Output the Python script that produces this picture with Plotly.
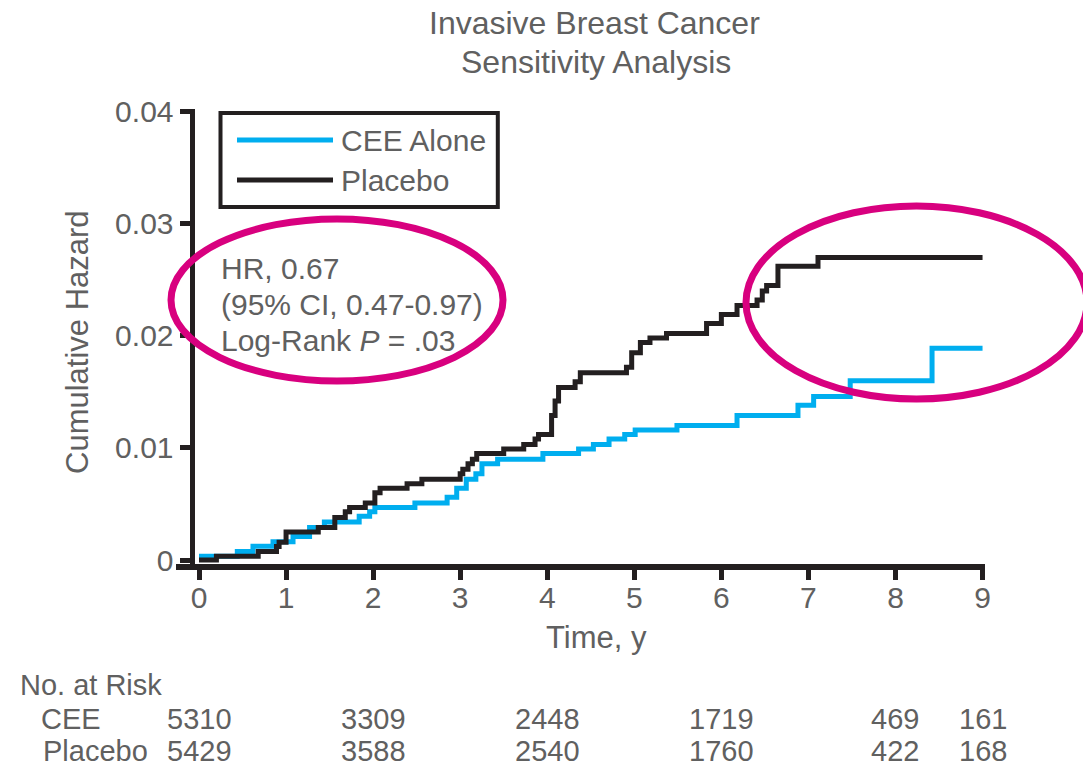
import plotly.graph_objects as go

# Cumulative hazard step curves: time in years, cumulative hazard
cee_years = [0.00, 0.44, 0.62, 0.85, 1.08, 1.27, 1.44, 1.84, 1.96, 2.02, 2.48, 2.85,
             2.96, 3.07, 3.18, 3.25, 3.43, 3.95, 4.36, 4.53, 4.71, 4.89, 5.01, 5.49,
             6.18, 6.88, 7.06, 7.48, 8.42, 9.00]
cee_hazard = [0.00035, 0.00076, 0.00123, 0.00164, 0.0021, 0.0029, 0.0034, 0.0039,
              0.0043, 0.0047, 0.0051, 0.0056, 0.0064, 0.0072, 0.0077, 0.0086, 0.0090,
              0.0095, 0.0099, 0.0103, 0.0108, 0.0112, 0.0116, 0.0120, 0.0129, 0.0138,
              0.0146, 0.0160, 0.0189, 0.0189]

placebo_years = [0.00, 0.20, 0.68, 0.89, 0.92, 1.00, 1.37, 1.56, 1.68, 1.73, 1.91, 2.02,
                 2.08, 2.39, 2.56, 3.00, 3.03, 3.09, 3.14, 3.19, 3.50, 3.73, 3.86, 3.90,
                 4.05, 4.09, 4.13, 4.32, 4.38, 4.91, 4.97, 5.07, 5.18, 5.37, 5.83, 6.00,
                 6.18, 6.41, 6.47, 6.52, 6.65, 7.11, 9.00]
placebo_hazard = [0.0, 0.00035, 0.00076, 0.0012, 0.0016, 0.0025, 0.0029, 0.0038, 0.0043,
                  0.0047, 0.0051, 0.0060, 0.0064, 0.0068, 0.0072, 0.0077, 0.0081, 0.0086,
                  0.0090, 0.0095, 0.0099, 0.0103, 0.0108, 0.0112, 0.0129, 0.0142, 0.0154,
                  0.0159, 0.0167, 0.0172, 0.0185, 0.0194, 0.0198, 0.0202, 0.0211, 0.0219,
                  0.0227, 0.0232, 0.0240, 0.0245, 0.0262, 0.0270, 0.0270]

# Number at risk table
risk_years = [0, 2, 4, 6, 8, 9]
risk_cee = ["5310", "3309", "2448", "1719", "469", "161"]
risk_placebo = ["5429", "3588", "2540", "1760", "422", "168"]

# Axis ticks
x_tick_values = [0, 1, 2, 3, 4, 5, 6, 7, 8, 9]
y_tick_values = [0, 0.01, 0.02, 0.03, 0.04]
y_tick_labels = ["0", "0.01", "0.02", "0.03", "0.04"]

stats_lines = ["HR, 0.67", "(95% CI, 0.47-0.97)", "Log-Rank <i>P</i> = .03"]

BLUE = "#00aeef"
DARK = "#231f20"
TEXT = "#606060"
MAGENTA = "#d8007f"
FONT = "Liberation Sans, Arial, sans-serif"

W, H = 1083, 769
L, R, T, B = 176, 98, 109, 205
PW, PH = W - L - R, H - T - B


def px(x):
    return (x - L) / PW


def py(y):
    return (H - B - y) / PH


fig = go.Figure()
fig.add_trace(go.Scatter(x=cee_years, y=cee_hazard, mode="lines", line_shape="hv",
                         line=dict(color=BLUE, width=5), name="CEE Alone",
                         showlegend=False))
fig.add_trace(go.Scatter(x=placebo_years, y=placebo_hazard, mode="lines", line_shape="hv",
                         line=dict(color=DARK, width=5), name="Placebo",
                         showlegend=False))

annotations = []


def text(x, y, s, size=31, xanchor="center", angle=0, xref="paper"):
    annotations.append(dict(x=x, y=y, xref=xref, yref="paper", text=s, showarrow=False,
                            xanchor=xanchor, yanchor="middle", textangle=angle,
                            font=dict(family=FONT, size=size, color=TEXT)))


# Title
text(px(594), py(23), "Invasive Breast Cancer", size=32)
text(px(596), py(62), "Sensitivity Analysis", size=32)

# Axis titles
text(px(77), py(342), "Cumulative Hazard", angle=-90)
text(px(596), py(637), "Time, y")

# Legend entries
text(px(339), py(140), "CEE Alone", size=30, xanchor="left")
text(px(339), py(180), "Placebo", size=30, xanchor="left")

# Hazard ratio statistics
for i, line in enumerate(stats_lines):
    text(px(219), py(268 + 36 * i), line, size=30, xanchor="left")

# Number at risk
text(px(18), py(685), "No. at Risk", size=29, xanchor="left")
text(px(39), py(719), "CEE", size=29, xanchor="left")
text(px(41), py(751), "Placebo", size=29, xanchor="left")
for yr, a, b in zip(risk_years, risk_cee, risk_placebo):
    text(yr, py(719), a, size=29, xref="x")
    text(yr, py(751), b, size=29, xref="x")

shapes = [
    # legend frame and line samples
    dict(type="rect", xref="paper", yref="paper", x0=px(220.5), x1=px(497.8),
         y0=py(207), y1=py(113), line=dict(color=DARK, width=4)),
    dict(type="line", xref="paper", yref="paper", x0=px(237), x1=px(333),
         y0=py(140), y1=py(140), line=dict(color=BLUE, width=5)),
    dict(type="line", xref="paper", yref="paper", x0=px(237), x1=px(333),
         y0=py(180), y1=py(180), line=dict(color=DARK, width=5)),
    # highlight ellipses
    dict(type="circle", xref="paper", yref="paper", x0=px(171), x1=px(503),
         y0=py(381), y1=py(219), line=dict(color=MAGENTA, width=7), layer="above"),
    dict(type="circle", xref="paper", yref="paper", x0=px(746), x1=px(1087),
         y0=py(399), y1=py(206), line=dict(color=MAGENTA, width=7), layer="above"),
]

ppx = 87.06           # pixels per year
ppy = 11407.5         # pixels per unit hazard
fig.update_layout(
    width=W, height=H,
    margin=dict(l=L, r=R, t=T, b=B, pad=0),
    paper_bgcolor="white", plot_bgcolor="white",
    showlegend=False,
    xaxis=dict(range=[-23 / ppx, (985 - 199) / ppx], tickvals=x_tick_values,
               showgrid=False, zeroline=False, showline=True, linecolor=DARK, linewidth=6,
               ticks="outside", ticklen=10, tickwidth=5, tickcolor=DARK,
               ticklabelstandoff=-8,
               tickfont=dict(family=FONT, size=30, color=TEXT)),
    yaxis=dict(range=[-(568 - 564) / ppy, 0.04 + (111.7 - 109) / ppy],
               tickvals=y_tick_values, ticktext=y_tick_labels,
               anchor="free", position=px(191.5),
               showgrid=False, zeroline=False, showline=True, linecolor=DARK, linewidth=5,
               ticks="outside", ticklen=10, tickwidth=5, tickcolor=DARK,
               tickfont=dict(family=FONT, size=30, color=TEXT)),
    annotations=annotations,
    shapes=shapes,
)

fig.write_html("out.html")
